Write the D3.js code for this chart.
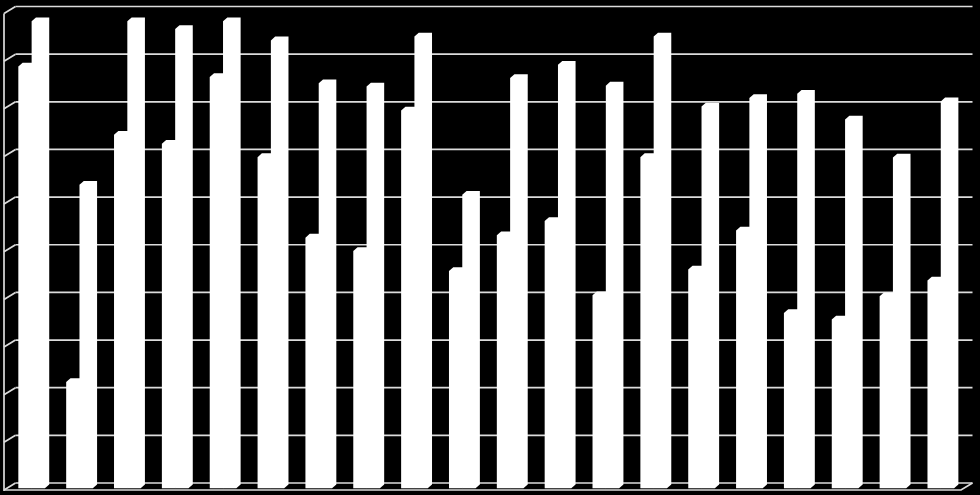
<!DOCTYPE html>
<html>
<head>
<meta charset="utf-8">
<script src="https://cdn.jsdelivr.net/npm/d3@7"></script>
<style>
  html, body { margin: 0; padding: 0; background: #000; }
  .grid { stroke: #dcdcdc; stroke-width: 1.7; fill: none; }
  .bar { fill: #fff; }
</style>
</head>
<body>
<div id="chart"></div>
<script>
var categories = ["1","2","3","4","5","6","7","8","9","10","11","12","13","14","15","16","17","18","19","20"];
var series = ["A", "B"];
var seriesA = [88.5, 22.3, 74.2, 72.3, 86.3, 69.5, 52.6, 49.8, 79.3, 45.6, 53.1, 56.1, 40.5, 69.5, 45.9, 54.1, 36.8, 35.4, 40.3, 43.6];
var seriesB = [98.0, 63.7, 98.0, 96.4, 98.0, 94.0, 85.0, 84.3, 94.8, 61.6, 86.1, 88.9, 84.5, 94.8, 80.1, 81.9, 82.8, 77.4, 69.4, 81.2];
var yTicks = [0, 10, 20, 30, 40, 50, 60, 70, 80, 90, 100];

var width = 980, height = 495;
// oblique 3d: offset from front plane to back wall
var depth = {x: 11.5, y: -7};
// bar front sits a little inside the floor, bar top face depth
var barShift = {x: 3.7, y: -1.7};
var barDepth = {x: 4.3, y: -3.8};

var svg = d3.select("#chart")
            .append("svg")
            .attr("width", width)
            .attr("height", height)
            .style("background", "#000");

var x = d3.scaleBand()
          .domain(categories)
          .range([4, 961])
          .paddingInner(0)
          .paddingOuter(0);

var barW = 13.3;
var x1 = d3.scaleBand()
           .domain(series)
           .range([0, barW * 2]);
var inset = (x.bandwidth() - barW * 2) / 2;

var y = d3.scaleLinear()
          .domain([0, 100])
          .range([490, 13.5]);

// back wall gridlines
svg.selectAll("line.back")
   .data(yTicks)
   .enter()
   .append("line")
   .attr("class", "grid back")
   .attr("x1", 4 + depth.x)
   .attr("x2", 961 + depth.x)
   .attr("y1", function(d) { return y(d) + depth.y; })
   .attr("y2", function(d) { return y(d) + depth.y; });

// left wall
svg.selectAll("line.side")
   .data(yTicks)
   .enter()
   .append("line")
   .attr("class", "grid side")
   .attr("x1", 4)
   .attr("x2", 4 + depth.x)
   .attr("y1", function(d) { return y(d); })
   .attr("y2", function(d) { return y(d) + depth.y; });

svg.append("line")
   .attr("class", "grid")
   .attr("x1", 4).attr("x2", 4)
   .attr("y1", y(100)).attr("y2", y(0) + 1);

// floor front and right edge
svg.append("path")
   .attr("class", "grid")
   .attr("d", "M4," + y(0) + "L961," + y(0) + "L" + (961 + depth.x) + "," + (y(0) + depth.y));

var data = categories.map(function(c, i) {
  return [{cat: c, s: "A", v: seriesA[i]}, {cat: c, s: "B", v: seriesB[i]}];
});
data = [].concat.apply([], data);

function barPath(d) {
  var x0 = x(d.cat) + inset + x1(d.s) + barShift.x;
  var xr = x0 + barW;
  var yb = y(0) + barShift.y;
  var yt = y(d.v) + barShift.y;
  var dx = barDepth.x, dy = barDepth.y;
  return "M" + x0 + "," + yb +
         "L" + x0 + "," + yt +
         "L" + (x0 + dx) + "," + (yt + dy) +
         "L" + (xr + dx) + "," + (yt + dy) +
         "L" + (xr + dx) + "," + (yb + dy) +
         "L" + xr + "," + yb + "Z";
}

svg.selectAll("path.bar")
   .data(data)
   .enter()
   .append("path")
   .attr("class", "bar")
   .attr("d", barPath);
</script>
</body>
</html>
